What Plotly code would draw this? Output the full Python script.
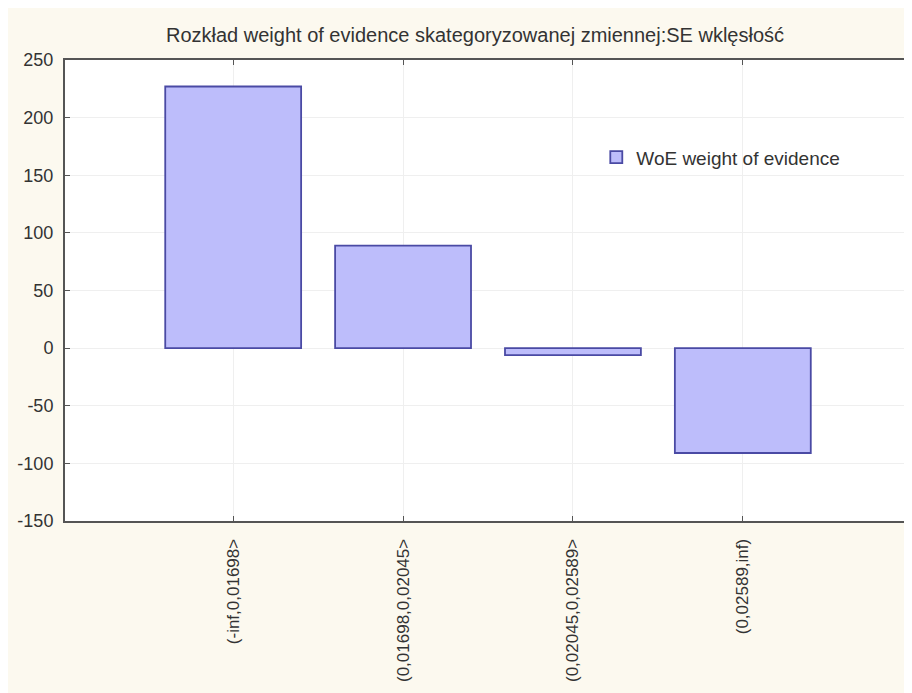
import plotly.graph_objects as go

categories = ["(-inf,0,01698>", "(0,01698,0,02045>", "(0,02045,0,02589>", "(0,02589,inf)"]
woe_values = [227, 89, -6, -91]
series_name = "WoE weight of evidence"
title_text = "Rozkład weight of evidence skategoryzowanej zmiennej:SE wklęsłość"
y_ticks = [-150, -100, -50, 0, 50, 100, 150, 200, 250]
y_tick_labels = ["-150", "-100", "-50", "0", "50", "100", "150", "200", "250"]

fig = go.Figure()
fig.add_trace(go.Bar(
    x=categories, y=woe_values, name=series_name, width=0.8,
    marker=dict(color="#BDBDFB", line=dict(color="#4A4AA4", width=1.8)),
    showlegend=True,
))

fig.update_layout(
    width=904, height=685,
    paper_bgcolor="#FCF9EF", plot_bgcolor="#FFFFFF",
    margin=dict(l=57, r=1, t=52, b=172, autoexpand=False),
    title=dict(text=title_text, x=0.5166, xanchor="center", y=1 - 27 / 685, yanchor="middle",
               font=dict(family="Liberation Sans, Arial", size=20, color="#333333")),
    font=dict(family="Liberation Sans, Arial", color="#333333"),
    showlegend=True,
    legend=dict(x=0.628, y=0.83, xanchor="left", yanchor="top", bgcolor="rgba(0,0,0,0)",
                font=dict(size=19, color="#333333")),
    bargap=0.2,
)
fig.update_xaxes(
    type="category", range=[-0.99, 3.99], tickangle=-90, automargin=False,
    showline=True, linecolor="#555555", linewidth=2, mirror="ticks",
    ticks="inside", ticklen=5, tickcolor="#555555", ticklabelstandoff=9,
    showgrid=True, gridcolor="#EFEFEF", gridwidth=1,
    tickfont=dict(size=17, color="#333333"),
)
fig.update_yaxes(
    range=[-150, 250], tickvals=y_ticks, ticktext=y_tick_labels, automargin=False,
    showline=True, linecolor="#555555", linewidth=2, mirror="ticks",
    ticks="inside", ticklen=5, tickcolor="#555555", ticklabelstandoff=6,
    showgrid=True, gridcolor="#EFEFEF", gridwidth=1, zeroline=False,
    tickfont=dict(size=18, color="#333333"),
)

fig.write_html("out.html")
